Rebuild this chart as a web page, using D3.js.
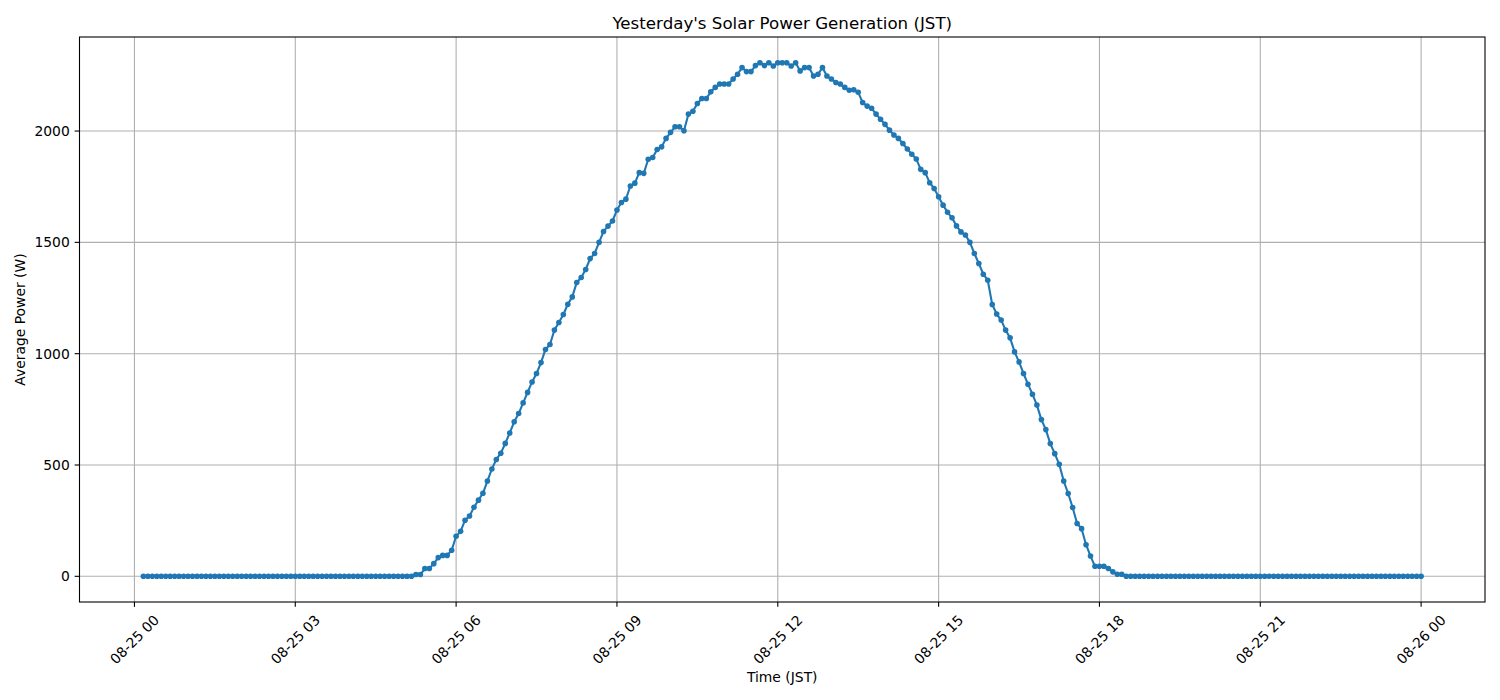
<!DOCTYPE html>
<html>
<head>
<meta charset="utf-8">
<script src="https://cdn.jsdelivr.net/npm/d3@7"></script>
<style>
  html, body { margin: 0; padding: 0; background: #fff; }
  svg { display: block; font-family: "DejaVu Sans", sans-serif; }
</style>
</head>
<body>
<svg id="chart" width="1500" height="700"></svg>
<script>
// ---- Data (5-minute averages, 08-25 00:10 .. 08-26 00:00 JST) ----
const chartTitle = "Yesterday's Solar Power Generation (JST)";
const xLabel = "Time (JST)";
const yLabel = "Average Power (W)";
const startTime = "2000-08-25T00:10:00";
const stepMinutes = 5;
// one row per hour (first row starts at 00:10, last value is 24:00)
const powerW = [
  0,0,0,0,0,0,0,0,0,0,
  0,0,0,0,0,0,0,0,0,0,0,0,
  0,0,0,0,0,0,0,0,0,0,0,0,
  0,0,0,0,0,0,0,0,0,0,0,0,
  0,0,0,0,0,0,0,0,0,0,0,0,
  0,0,0,8,8,35,35,57,84,94,94,117,
  180,202,252,271,310,342,373,428,482,525,553,597,
  644,694,731,779,826,873,911,960,1019,1041,1106,1140,
  1176,1222,1255,1320,1342,1378,1427,1450,1500,1549,1573,1596,
  1645,1679,1694,1753,1766,1813,1810,1873,1881,1917,1929,1967,
  1994,2019,2019,2001,2076,2089,2124,2146,2146,2176,2196,2211,
  2211,2211,2234,2255,2285,2267,2267,2294,2307,2294,2307,2292,
  2307,2307,2307,2292,2307,2270,2285,2285,2247,2255,2285,2247,
  2234,2218,2211,2196,2183,2185,2174,2128,2112,2102,2076,2053,
  2030,2004,1982,1967,1944,1919,1896,1874,1828,1813,1768,1742,
  1705,1667,1635,1610,1574,1547,1533,1500,1450,1405,1357,1330,
  1221,1178,1151,1106,1071,1008,963,911,863,818,769,704,
  659,596,551,503,428,372,309,237,214,142,91,45,
  45,45,35,20,9,9,0,0,0,0,0,0,
  0,0,0,0,0,0,0,0,0,0,0,0,
  0,0,0,0,0,0,0,0,0,0,0,0,
  0,0,0,0,0,0,0,0,0,0,0,0,
  0,0,0,0,0,0,0,0,0,0,0,0,
  0,0,0,0,0,0,0,0,0,0,0,0,
  0
];
const yTicks = [0, 500, 1000, 1500, 2000];
const xTickHours = 3;

// ---- Build series ----
const t0 = new Date(startTime);
const series = powerW.map((v, i) => ({ t: d3.timeMinute.offset(t0, i * stepMinutes), v }));

// ---- Layout ----
const svg = d3.select("#chart");
const plot = { left: 79.5, right: 1485, top: 37, bottom: 602 };
const FS = "13.89px";
const tickLen = 4.86, tickPad = 4.86;

const tExt = d3.extent(series, d => d.t);
const tPad = (tExt[1] - tExt[0]) * 0.05;
const x = d3.scaleTime()
  .domain([new Date(+tExt[0] - tPad), new Date(+tExt[1] + tPad)])
  .range([plot.left, plot.right]);

const vMax = d3.max(series, d => d.v), vMin = d3.min(series, d => d.v);
const vPad = (vMax - vMin) * 0.05;
const y = d3.scaleLinear()
  .domain([vMin - vPad, vMax + vPad])
  .range([plot.bottom, plot.top]);

const xTicks = d3.timeHour.every(xTickHours).range(
  d3.timeDay.floor(tExt[0]), new Date(+tExt[1] + 1));
const fmt = d3.timeFormat("%m-%d %H");

// ---- Grid ----
const grid = svg.append("g").attr("stroke", "#b0b0b0").attr("stroke-width", 1.1);
grid.selectAll("line.gx").data(xTicks).join("line")
  .attr("x1", d => x(d)).attr("x2", d => x(d))
  .attr("y1", plot.top).attr("y2", plot.bottom);
grid.selectAll("line.gy").data(yTicks).join("line")
  .attr("x1", plot.left).attr("x2", plot.right)
  .attr("y1", d => y(d)).attr("y2", d => y(d));

// ---- Data line + markers ----
svg.append("defs").append("clipPath").attr("id", "clip")
  .append("rect").attr("x", plot.left).attr("y", plot.top)
  .attr("width", plot.right - plot.left).attr("height", plot.bottom - plot.top);

const dataG = svg.append("g").attr("clip-path", "url(#clip)");
dataG.append("path")
  .datum(series)
  .attr("fill", "none")
  .attr("stroke", "#1f77b4")
  .attr("stroke-width", 2.08)
  .attr("stroke-linejoin", "round")
  .attr("stroke-linecap", "butt")
  .attr("d", d3.line().x(d => x(d.t)).y(d => y(d.v)));
dataG.selectAll("circle").data(series).join("circle")
  .attr("cx", d => x(d.t)).attr("cy", d => y(d.v))
  .attr("r", 2.8).attr("fill", "#1f77b4");

// ---- Frame ----
svg.append("rect")
  .attr("x", plot.left).attr("y", plot.top)
  .attr("width", plot.right - plot.left).attr("height", plot.bottom - plot.top)
  .attr("fill", "none").attr("stroke", "#000").attr("stroke-width", 1.1);

// ---- Y axis ticks ----
const yAx = svg.append("g");
yAx.selectAll("line").data(yTicks).join("line")
  .attr("x1", plot.left - tickLen).attr("x2", plot.left)
  .attr("y1", d => y(d)).attr("y2", d => y(d))
  .attr("stroke", "#000").attr("stroke-width", 1.1);
yAx.selectAll("text").data(yTicks).join("text")
  .attr("x", plot.left - tickLen - tickPad).attr("y", d => y(d))
  .attr("text-anchor", "end").attr("dominant-baseline", "central")
  .attr("font-size", FS).attr("fill", "#000")
  .text(d => d3.format("d")(d));

// ---- X axis ticks ----
const xAx = svg.append("g");
xAx.selectAll("line").data(xTicks).join("line")
  .attr("x1", d => x(d)).attr("x2", d => x(d))
  .attr("y1", plot.bottom).attr("y2", plot.bottom + tickLen)
  .attr("stroke", "#000").attr("stroke-width", 1.1);
const xl = xAx.selectAll("text").data(xTicks).join("text")
  .attr("text-anchor", "middle").attr("dominant-baseline", "central")
  .attr("font-size", FS).attr("fill", "#000")
  .text(d => fmt(d));
xl.each(function(d) {
  const w = this.getComputedTextLength();
  const h = 16.2;
  const half = (w + h) / Math.SQRT2 / 2;
  const cy = plot.bottom + tickLen + tickPad + half;
  d3.select(this).attr("transform", `translate(${x(d)},${cy}) rotate(-45)`);
});

// ---- Labels ----
svg.append("text")
  .attr("x", (plot.left + plot.right) / 2).attr("y", 29)
  .attr("text-anchor", "middle").attr("font-size", "16.67px").attr("fill", "#000")
  .text(chartTitle);
svg.append("text")
  .attr("x", (plot.left + plot.right) / 2).attr("y", 682)
  .attr("text-anchor", "middle").attr("font-size", FS).attr("fill", "#000")
  .text(xLabel);
svg.append("text")
  .attr("transform", `translate(25,${(plot.top + plot.bottom) / 2}) rotate(-90)`)
  .attr("text-anchor", "middle").attr("font-size", FS).attr("fill", "#000")
  .text(yLabel);
</script>
</body>
</html>
